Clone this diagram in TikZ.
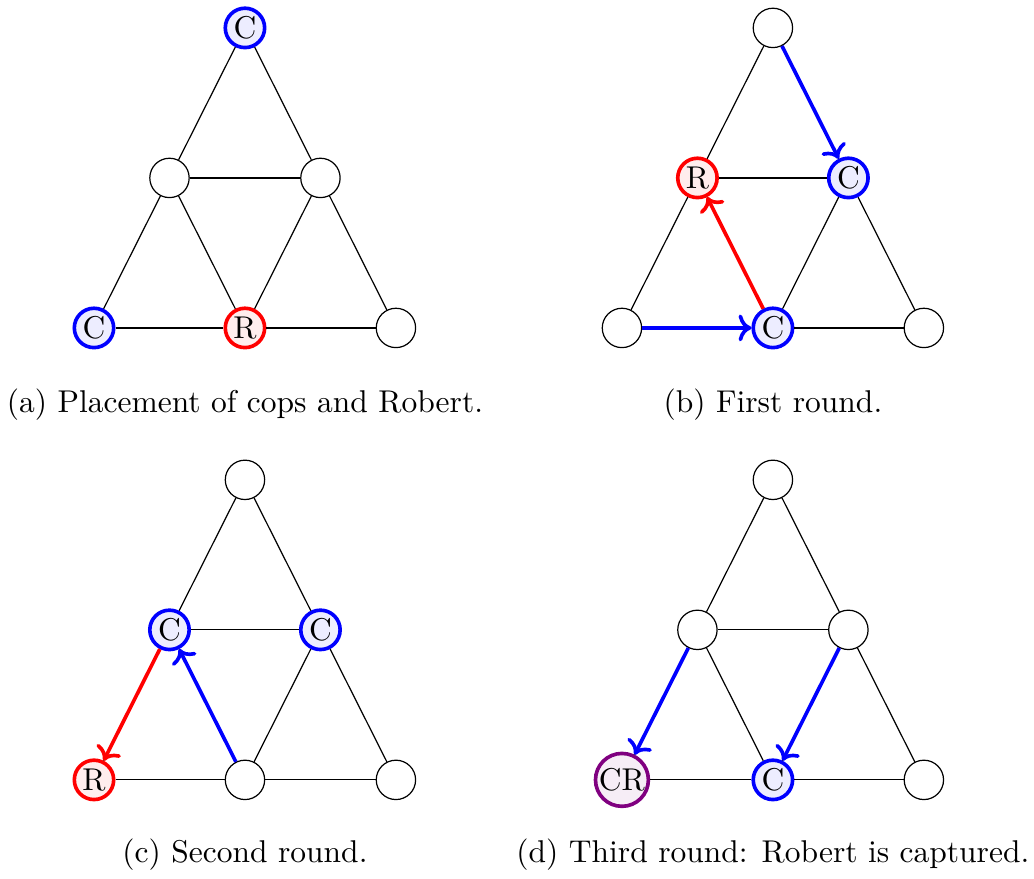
\documentclass[tikz,border=0pt]{standalone}
\usepackage{xcolor}
\usepackage{tikz}
\usetikzlibrary{arrows.meta,positioning}

\begin{document}
\begin{tikzpicture}[
  font=\fontsize{10.4}{12.5}\selectfont,
  vert/.style={circle, draw, thin, fill=white, minimum size=13pt, inner sep=0.2pt},
  cop/.style={vert, draw=blue, very thick, fill=blue!7},
  rob/.style={vert, draw=red, very thick, fill=red!7},
  caught/.style={vert, draw=violet, very thick, fill=violet!7},
  link/.style={draw, thin},
  copmove/.style={->, draw=blue, very thick},
  robmove/.style={->, draw=red, very thick},
  subcap/.style={anchor=center}
]

\def\hx{0.876cm}
\def\vy{1.741cm}
\def\px{6.127cm}
\def\py{5.245cm}

\useasboundingbox (-2.843,-6.394) rectangle (9.157,3.806);

% ---- (a) placement -------------------------------------------------------
\begin{scope}
\node[cop]  (a-top) at (0, 2*\vy)    {C};
\node[vert] (a-ml)  at (-\hx, \vy)   {};
\node[vert] (a-mr)  at (\hx, \vy)    {};
\node[cop]  (a-bl)  at (-2*\hx, 0)   {C};
\node[rob]  (a-bm)  at (0, 0)        {R};
\node[vert] (a-br)  at (2*\hx, 0)    {};
\node[subcap] (a-cap) at (0, -0.894) {(a) Placement of cops and Robert.};
\end{scope}

% ---- (b) first round -----------------------------------------------------
\begin{scope}[xshift=\px]
\node[vert] (b-top) at (0, 2*\vy)    {};
\node[rob]  (b-ml)  at (-\hx, \vy)   {R};
\node[cop]  (b-mr)  at (\hx, \vy)    {C};
\node[vert] (b-bl)  at (-2*\hx, 0)   {};
\node[cop]  (b-bm)  at (0, 0)        {C};
\node[vert] (b-br)  at (2*\hx, 0)    {};
\node[subcap] (b-cap) at (0, -0.894) {(b) First round.};
\end{scope}

% ---- (c) second round ----------------------------------------------------
\begin{scope}[yshift=-\py]
\node[vert] (c-top) at (0, 2*\vy)    {};
\node[cop]  (c-ml)  at (-\hx, \vy)   {C};
\node[cop]  (c-mr)  at (\hx, \vy)    {C};
\node[rob]  (c-bl)  at (-2*\hx, 0)   {R};
\node[vert] (c-bm)  at (0, 0)        {};
\node[vert] (c-br)  at (2*\hx, 0)    {};
\end{scope}
\node[subcap] (c-cap) at (0, -6.116) {(c) Second round.};

% ---- (d) third round -----------------------------------------------------
\begin{scope}[xshift=\px, yshift=-\py]
\node[vert]   (d-top) at (0, 2*\vy)  {};
\node[vert]   (d-ml)  at (-\hx, \vy) {};
\node[vert]   (d-mr)  at (\hx, \vy)  {};
\node[caught] (d-bl)  at (-2*\hx, 0) {CR};
\node[cop]    (d-bm)  at (0, 0)      {C};
\node[vert]   (d-br)  at (2*\hx, 0)  {};
\end{scope}
\node[subcap] (d-cap) at (\px, -6.116) {(d) Third round: Robert is captured.};

% ---- graph edges ---------------------------------------------------------
\foreach \g in {a,b,c,d}
  \foreach \u/\w in {top/ml,top/mr,ml/mr,ml/bl,ml/bm,mr/bm,mr/br,bl/bm,bm/br}
    \draw[link] (\g-\u) -- (\g-\w);

% ---- moves ---------------------------------------------------------------
\draw[copmove] (b-top) -- (b-mr);
\draw[copmove] (b-bl) -- (b-bm);
\draw[robmove] (b-bm) -- (b-ml);
\draw[robmove] (c-ml) -- (c-bl);
\draw[copmove] (c-bm) -- (c-ml);
\draw[copmove] (d-ml) -- (d-bl);
\draw[copmove] (d-mr) -- (d-bm);

\end{tikzpicture}
\end{document}
